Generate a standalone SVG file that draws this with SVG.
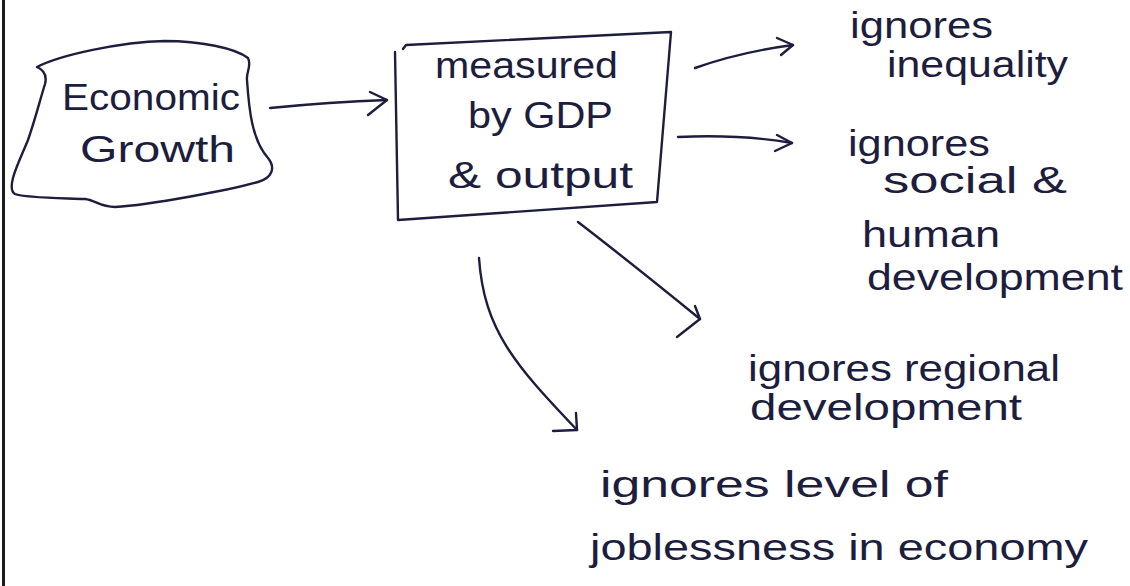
<svg xmlns="http://www.w3.org/2000/svg" width="1130" height="586" viewBox="0 0 1130 586">
<style>
.ink{fill:none;stroke:#1d1d3d;stroke-width:2.4;stroke-linecap:round;stroke-linejoin:round}
.t{font-family:"Liberation Sans",Arial,sans-serif;font-size:36px;fill:#1d1d3d}
</style>
<rect x="0" y="0" width="1130" height="586" fill="#ffffff"/>
<line x1="3.5" y1="0" x2="3.5" y2="586" stroke="#1a1a1a" stroke-width="3"/>
<g id="economic-growth">
<path class="ink" d="M37,67 C60,55 120,42 165,41 C200,41 235,48 248,58 C252,66 246,72 247,80 C249,110 252,140 268,158 C276,168 272,178 258,182 C230,190 150,205 115,207 C100,207 95,200 85,199 C60,198 25,198 15,194 C5,188 20,160 28,140 C35,120 40,100 45,84 C47,76 44,70 37,67 Z"/>
<text class="t" x="62" y="110" font-size="40" textLength="178" lengthAdjust="spacingAndGlyphs">Economic</text>
<text class="t" x="80" y="162" textLength="155" lengthAdjust="spacingAndGlyphs">Growth</text>
</g>
<g id="measured-by-gdp">
<path class="ink" d="M403,49 L406,45 L671,32 L657,202 L398,220 L395,52"/>
<text class="t" x="435" y="78" textLength="183" lengthAdjust="spacingAndGlyphs">measured</text>
<text class="t" x="468" y="128" textLength="145" lengthAdjust="spacingAndGlyphs">by GDP</text>
<text class="t" x="448" y="188" textLength="185" lengthAdjust="spacingAndGlyphs">&amp; output</text>
</g>
<g id="inequality">
<text class="t" x="850" y="38" textLength="143" lengthAdjust="spacingAndGlyphs">ignores</text>
<text class="t" x="887" y="77" textLength="181" lengthAdjust="spacingAndGlyphs">inequality</text>
</g>
<g id="social-human">
<text class="t" x="848" y="156" textLength="142" lengthAdjust="spacingAndGlyphs">ignores</text>
<text class="t" x="883" y="193" textLength="184" lengthAdjust="spacingAndGlyphs">social &amp;</text>
<text class="t" x="862" y="247" textLength="138" lengthAdjust="spacingAndGlyphs">human</text>
<text class="t" x="867" y="290" textLength="256" lengthAdjust="spacingAndGlyphs">development</text>
</g>
<g id="regional">
<text class="t" x="748" y="381" textLength="312" lengthAdjust="spacingAndGlyphs">ignores regional</text>
<text class="t" x="750" y="420" textLength="272" lengthAdjust="spacingAndGlyphs">development</text>
</g>
<g id="joblessness">
<text class="t" x="600" y="497" textLength="348" lengthAdjust="spacingAndGlyphs">ignores level of</text>
<text class="t" x="590" y="560" textLength="498" lengthAdjust="spacingAndGlyphs">joblessness in economy</text>
</g>
<g id="connectors">
<path class="ink" d="M270,108 Q330,102 387,100"/>
<path class="ink" d="M370,92 L387,100 L368,115"/>
<path class="ink" d="M695,68 Q740,52 793,45"/>
<path class="ink" d="M777,38 L793,45 L781,55"/>
<path class="ink" d="M678,137 Q740,134 792,143"/>
<path class="ink" d="M777,135 L792,143 L775,151"/>
<path class="ink" d="M578,222 Q630,262 700,319"/>
<path class="ink" d="M695,306 L700,319 L677,337"/>
<path class="ink" d="M479,258 C484,330 515,365 577,430"/>
<path class="ink" d="M553,431 L577,430 L576,413"/>
</g>
</svg>
